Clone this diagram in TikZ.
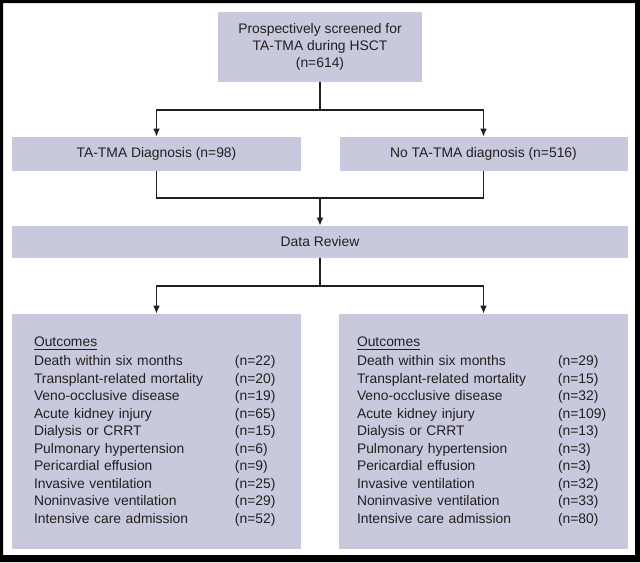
\documentclass[tikz,border=0pt]{standalone}
\usepackage{fontspec}
\setmainfont{Liberation Sans}
\usepackage{tikz}
\usetikzlibrary{arrows.meta,positioning,calc}
\usepackage{xcolor}
\definecolor{boxfill}{RGB}{200,201,221}
\definecolor{ink}{RGB}{35,31,32}
\newcommand{\outrow}[2]{\makebox[150.75pt][l]{#1}(n=#2)}

\begin{document}
\begin{tikzpicture}[
        x=0.75pt, y=-0.75pt,
        % Estilos
        box/.style={rectangle, fill=boxfill, inner sep=0pt, align=center, text=ink, font=\fontsize{10.4}{12.6}\selectfont},
        outbox/.style={box, minimum height=176.25pt, align=left, font=\fontsize{10.4}{13.1}\selectfont},
        arrow/.style={-{Latex[length=6pt,width=5pt]}, line width=1.1pt, draw=ink},
        link/.style={line width=1.1pt, draw=ink}
    ]
        \useasboundingbox (0,0) rectangle (640,562);
        % Moldura
        \fill[black, even odd rule] (0,0) rectangle (640,562) (3,3) rectangle (635,555);

        % Triagem
        \node (screen) [box, minimum width=153pt, minimum height=52.5pt] at (320,47) {Prospectively screened for\\TA-TMA during HSCT\\(n=614)};

        % Diagnostico
        \node (diag) [box, minimum width=216.75pt, minimum height=25.5pt] at (156.5,154) {TA-TMA Diagnosis (n=98)};
        \node (nodiag) [box, minimum width=216pt, minimum height=25.5pt] at (483.5,154) {No TA-TMA diagnosis (n=516)};

        % Revisao
        \node (review) [box, minimum width=462pt, minimum height=24pt] at (320,242) {Data Review};

        % Desfechos
        \node (outL) [outbox, inner xsep=16.5pt, text width=183.75pt] at (156.5,431.5) {\underline{Outcomes}\\[1.2pt]
            \outrow{Death within six months}{22}\\
            \outrow{Transplant-related mortality}{20}\\
            \outrow{Veno-occlusive disease}{19}\\
            \outrow{Acute kidney injury}{65}\\
            \outrow{Dialysis or CRRT}{15}\\
            \outrow{Pulmonary hypertension}{6}\\
            \outrow{Pericardial effusion}{9}\\
            \outrow{Invasive ventilation}{25}\\
            \outrow{Noninvasive ventilation}{29}\\
            \outrow{Intensive care admission}{52}};
        \node (outR) [outbox, inner xsep=13.5pt, text width=189.75pt] at (483.5,431.5) {\underline{Outcomes}\\[1.2pt]
            \outrow{Death within six months}{29}\\
            \outrow{Transplant-related mortality}{15}\\
            \outrow{Veno-occlusive disease}{32}\\
            \outrow{Acute kidney injury}{109}\\
            \outrow{Dialysis or CRRT}{13}\\
            \outrow{Pulmonary hypertension}{3}\\
            \outrow{Pericardial effusion}{3}\\
            \outrow{Invasive ventilation}{32}\\
            \outrow{Noninvasive ventilation}{33}\\
            \outrow{Intensive care admission}{80}};

        % --- Linhas de Conexão ---
        \coordinate (split1) at (320,110);
        \coordinate (join) at (320,198);
        \coordinate (split2) at (320,286);

        \draw [link] (screen.south) -- (split1);
        \draw [arrow] (split1) -| (diag.north);
        \draw [arrow] (split1) -| (nodiag.north);

        \draw [link] (diag.south) |- (join);
        \draw [link] (nodiag.south) |- (join);
        \draw [arrow] (join) -- (review.north);

        \draw [link] (review.south) -- (split2);
        \draw [arrow] (split2) -| (outL.north);
        \draw [arrow] (split2) -| (outR.north);

    \end{tikzpicture}
\end{document}
